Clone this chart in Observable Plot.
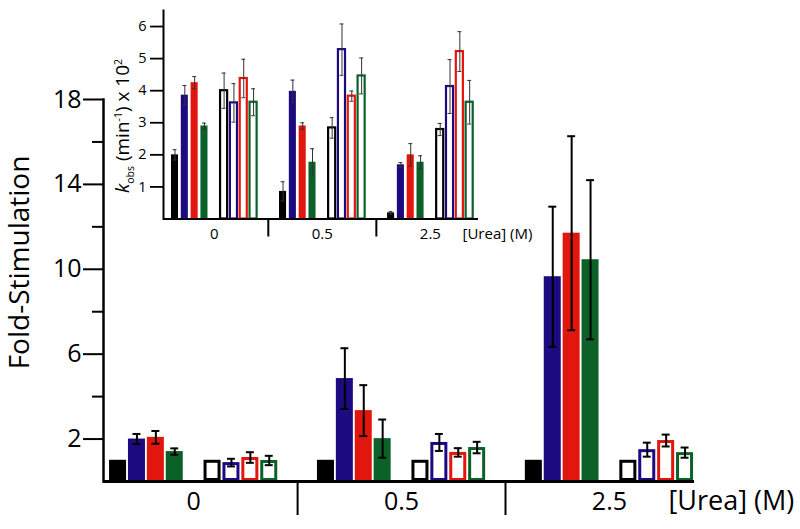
<!DOCTYPE html>
<html><head><meta charset="utf-8">
<script src="https://cdn.jsdelivr.net/npm/d3@7"></script>
<script src="https://cdn.jsdelivr.net/npm/@observablehq/plot@0.6"></script>
<style>
body{margin:0;background:#fff;font-family:"Open Sans",sans-serif}
#wrap{position:relative;width:800px;height:529px;overflow:hidden;background:#fff}
#wrap svg{position:absolute;left:0;top:0}
#klabel{position:absolute;left:124px;top:126px;transform:translate(-50%,-50%) rotate(-90deg);white-space:nowrap;font-family:"Open Sans",sans-serif;font-size:19px;color:#000;line-height:1}
#klabel sub,#klabel sup{font-size:10.5px}
</style></head><body><div id="wrap"></div>
<script>
// ---- data ----
const ureaGroups = ["0", "0.5", "2.5"];
const seriesKeys = ["S1", "S2", "S3", "S4"];
const forms = ["filled", "open"];
const mainTicksMajor = [2, 6, 10, 14, 18];
const mainTicksMinor = [4, 8, 12, 16];
const insetTicks = [1, 2, 3, 4, 5, 6];
const mainYLabel = "Fold-Stimulation";
const xUnitLabel = "[Urea] (M)";

// Fold-stimulation (main chart): per urea group, filled S1..S4 then open S1..S4
const foldUrea0   = [1.0, 2.00, 2.08, 1.41, 1.0, 0.89, 1.13, 0.99];
const foldUrea05  = [1.0, 4.85, 3.34, 2.02, 1.0, 1.84, 1.37, 1.60];
const foldUrea25  = [1.0, 9.65, 11.7, 10.45, 1.0, 1.50, 1.93, 1.36];
const foldErr0    = [0, 0.24, 0.30, 0.15, 0, 0.18, 0.25, 0.22];
const foldErr05   = [0, 1.43, 1.20, 0.90, 0, 0.40, 0.20, 0.27];
const foldErr25   = [0, 3.30, 4.57, 3.75, 0, 0.33, 0.28, 0.24];

// k_obs (inset) x 10^2
const kobsUrea0   = [2.00, 3.86, 4.25, 2.90, 4.00, 3.62, 4.38, 3.64];
const kobsUrea05  = [0.86, 3.98, 2.90, 1.77, 2.84, 5.28, 3.83, 4.46];
const kobsUrea25  = [0.19, 1.69, 2.00, 1.77, 2.79, 4.13, 5.22, 3.64];
const kobsErr0    = [0.16, 0.30, 0.19, 0.09, 0.55, 0.60, 0.60, 0.42];
const kobsErr05   = [0.30, 0.35, 0.10, 0.42, 0.32, 0.80, 0.16, 0.56];
const kobsErr25   = [0.04, 0.07, 0.35, 0.20, 0.19, 0.84, 0.62, 0.68];

// ---- build tables ----
const seriesColors = ["#000000", "#1c0b80", "#e1160d", "#0b6128"];
const SLOTS_PER_GROUP = 11; // 4 filled + gap + 4 open + 2 spacer
function buildRows(valueSets, errSets) {
  const rows = [];
  ureaGroups.forEach((g, gi) => {
    forms.forEach((f, fi) => {
      seriesKeys.forEach((s, si) => {
        const k = fi * 4 + si;
        rows.push({group: g, form: f, series: s,
          slot: gi * SLOTS_PER_GROUP + fi * 5 + si,
          value: valueSets[gi][k], err: errSets[gi][k]});
      });
    });
  });
  return rows;
}
const mainRows = buildRows([foldUrea0, foldUrea05, foldUrea25], [foldErr0, foldErr05, foldErr25]);
const insetRows = buildRows([kobsUrea0, kobsUrea05, kobsUrea25], [kobsErr0, kobsErr05, kobsErr25]);
const groupCenters = ureaGroups.map((g, gi) => ({label: g, x: gi * SLOTS_PER_GROUP + 4}));
const separators = ureaGroups.slice(1).map((g, gi) => gi * SLOTS_PER_GROUP + 9.5);

function barMarks(rows, o) {
  const filled = rows.filter(d => d.form === "filled");
  const open = rows.filter(d => d.form === "open");
  const withErr = rows.filter(d => d.err > 0);
  return [
    Plot.rect(filled, {x1: d => d.slot - o.half, x2: d => d.slot + o.half, y1: 0, y2: "value", fill: "series"}),
    Plot.rect(open, {x1: d => d.slot - o.half, x2: d => d.slot + o.half, y1: 0, y2: "value", fill: "white", stroke: "series", strokeWidth: o.openStroke, inset: o.openInset}),
    Plot.ruleX(withErr, {x: "slot", y1: d => d.value - d.err, y2: d => d.value + d.err, stroke: o.errColor, strokeWidth: o.errWidth}),
    Plot.ruleY(withErr, {y: d => d.value + d.err, x1: d => d.slot - o.cap, x2: d => d.slot + o.cap, stroke: o.errColor, strokeWidth: o.errWidth}),
    Plot.ruleY(withErr, {y: d => d.value - d.err, x1: d => d.slot - o.cap, x2: d => d.slot + o.cap, stroke: o.errColor, strokeWidth: o.errWidth})
  ];
}

const font = '"Open Sans", sans-serif';

const main = Plot.plot({
  width: 800, height: 529,
  marginTop: 99, marginBottom: 48, marginLeft: 103, marginRight: 106,
  style: {fontFamily: font, background: "transparent", overflow: "visible", color: "#000"},
  x: {domain: [-0.77, 30.5], axis: null},
  y: {domain: [0, 18], axis: null},
  color: {domain: seriesKeys, range: seriesColors},
  marks: [
    ...barMarks(mainRows, {half: 0.45, openStroke: 3, openInset: 1.5, errColor: "#000", errWidth: 2, cap: 0.21}),
    Plot.ruleY([0], {stroke: "#000", strokeWidth: 3}),
    Plot.frame({anchor: "left", stroke: "#000", strokeWidth: 2.5}),
    Plot.axisY(mainTicksMajor, {tickSize: 20, tickPadding: 2, fontSize: 25, strokeWidth: 2, label: null}),
    Plot.axisY(mainTicksMinor, {tickSize: 11, tickFormat: () => "", strokeWidth: 2, label: null}),
    Plot.axisX(separators, {tickSize: 34, tickFormat: () => "", strokeWidth: 2, label: null}),
    Plot.text(groupCenters, {x: "x", text: "label", frameAnchor: "bottom", dy: 20, lineAnchor: "middle", fontSize: 25}),
    Plot.text([xUnitLabel], {frameAnchor: "bottom-right", textAnchor: "start", dx: -26, dy: 20, lineAnchor: "middle", fontSize: 27}),
    Plot.text([mainYLabel], {frameAnchor: "left", rotate: -90, dx: -83, dy: -28, lineAnchor: "middle", textAnchor: "middle", fontSize: 28})
  ]
});

const inset = Plot.plot({
  width: 540, height: 245,
  marginTop: 10, marginBottom: 26.5, marginLeft: 163, marginRight: 62,
  style: {fontFamily: font, background: "transparent", overflow: "visible", color: "#000"},
  x: {domain: [-1.17, 30.9], axis: null},
  y: {domain: [0, 6.5], axis: null},
  color: {domain: seriesKeys, range: seriesColors},
  marks: [
    ...barMarks(insetRows, {half: 0.36, openStroke: 2.2, openInset: 0, errColor: "#333", errWidth: 1, cap: 0.2}),
    Plot.ruleY([0], {stroke: "#000", strokeWidth: 2}),
    Plot.frame({anchor: "left", stroke: "#000", strokeWidth: 2}),
    Plot.axisY(insetTicks, {tickSize: 13, tickPadding: 4, fontSize: 14.5, strokeWidth: 1.8, label: null}),
    Plot.axisX(separators, {tickSize: 18, tickFormat: () => "", strokeWidth: 2, label: null}),
    Plot.text(groupCenters, {x: "x", text: "label", frameAnchor: "bottom", dy: 15, lineAnchor: "middle", fontSize: 15}),
    Plot.text([xUnitLabel], {frameAnchor: "bottom-right", textAnchor: "start", dx: -16, dy: 15, lineAnchor: "middle", fontSize: 15})
  ]
});

const wrap = document.getElementById("wrap");
wrap.appendChild(main);
wrap.appendChild(inset);
const kl = document.createElement("div");
kl.id = "klabel";
kl.innerHTML = '<i>k</i><sub>obs</sub> (min<sup>-1</sup>) x 10<sup>2</sup>';
wrap.appendChild(kl);
</script>
</body></html>
